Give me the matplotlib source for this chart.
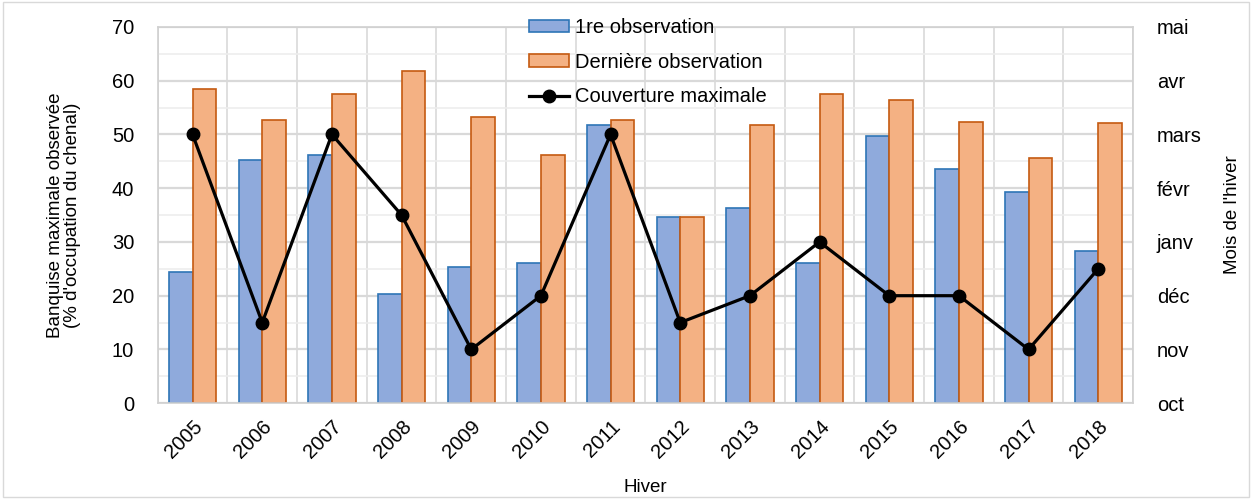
import numpy as np
import matplotlib.pyplot as plt
from matplotlib.ticker import MultipleLocator

plt.rcParams['font.family'] = ['Liberation Sans', 'DejaVu Sans']

hivers = ['2005', '2006', '2007', '2008', '2009', '2010', '2011',
          '2012', '2013', '2014', '2015', '2016', '2017', '2018']
# dates in months after 1 October (0 = oct, 1 = nov, ...)
premiere = [2.45, 4.53, 4.61, 2.03, 2.54, 2.61, 5.17,
            3.47, 3.64, 2.61, 4.97, 4.36, 3.93, 2.84]
derniere = [5.84, 5.26, 5.76, 6.18, 5.33, 4.61, 5.26,
            3.47, 5.17, 5.76, 5.64, 5.24, 4.57, 5.21]
# % d'occupation du chenal
couverture = [50, 15, 50, 35, 10, 20, 50, 15, 20, 30, 20, 20, 10, 25]
mois = ['oct', 'nov', 'déc', 'janv', 'févr', 'mars', 'avr', 'mai']

blue_fc, blue_ec = '#8FAADC', '#2E75B6'
orange_fc, orange_ec = '#F4B183', '#C55A11'
grid_col = '#D9D9D9'

fig = plt.figure(figsize=(12.52, 4.99), dpi=100)
fig.patches.append(plt.Rectangle((0.002, 0.004), 0.996, 0.992, transform=fig.transFigure,
                                 fill=False, edgecolor='#D9D9D9', linewidth=1))
ax = fig.add_axes([0.126, 0.192, 0.779, 0.754])
x = np.arange(len(hivers))
w = 0.34

# bars on the month scale
b1 = ax.bar(x - w / 2, premiere, w, color=blue_fc, edgecolor=blue_ec, linewidth=1.2,
            label='1re observation', zorder=2)
b2 = ax.bar(x + w / 2, derniere, w, color=orange_fc, edgecolor=orange_ec, linewidth=1.2,
            label='Dernière observation', zorder=2)

# ice cover line on the % scale
ax2 = ax.twinx()
ln, = ax2.plot(x, couverture, color='black', linewidth=2.3, marker='o', markersize=9,
               label='Couverture maximale', zorder=3)

ax.set_ylim(0, 7)
ax.set_xlim(-0.5, len(hivers) - 0.5)
ax.yaxis.tick_right()
ax.yaxis.set_label_position('right')
ax.set_yticks(np.arange(0, 8))
ax.set_yticklabels(mois, ha='left')
ax.yaxis.set_minor_locator(MultipleLocator(0.5))
ax.set_xticks(x)
ax.set_xticklabels(hivers, rotation=45, ha='right', rotation_mode='anchor')
ax.set_xticks(np.arange(-0.5, len(hivers), 1), minor=True)
ax.tick_params(axis='both', which='both', length=0)
ax.tick_params(axis='y', labelsize=14.5, pad=17)
ax.tick_params(axis='x', labelsize=14.5, pad=10)
ax.grid(axis='y', which='major', color=grid_col, linewidth=1.6, zorder=0)
ax.grid(axis='y', which='minor', color='#EDEDED', linewidth=1.2, zorder=0)
ax.grid(axis='x', which='minor', color=grid_col, linewidth=1.2, zorder=0)
ax.set_axisbelow(True)
for s in ax.spines.values():
    s.set_color('#D0D0D0')
    s.set_linewidth(1.2)
ax.set_ylabel("Mois de l'hiver", fontsize=13.5, labelpad=16)
ax.set_xlabel('Hiver', fontsize=13.5, labelpad=12)

ax2.set_ylim(0, 70)
ax2.yaxis.tick_left()
ax2.yaxis.set_label_position('left')
ax2.set_yticks(np.arange(0, 71, 10))
ax2.tick_params(axis='y', length=0, labelsize=14.5, pad=17)
ax2.set_ylabel("Banquise maximale observée\n(% d'occupation du chenal)", fontsize=13.5,
               labelpad=22, linespacing=1.05)
for s in ax2.spines.values():
    s.set_visible(False)

leg = ax2.legend([b1, b2, ln], ['1re observation', 'Dernière observation', 'Couverture maximale'],
                 loc='upper left', bbox_to_anchor=(0.372, 1.045), frameon=False, fontsize=14.5,
                 handlelength=2.0, handleheight=0.6, handletextpad=0.3, labelspacing=0.78,
                 borderaxespad=0)

fig.savefig('out.png', dpi=100)
